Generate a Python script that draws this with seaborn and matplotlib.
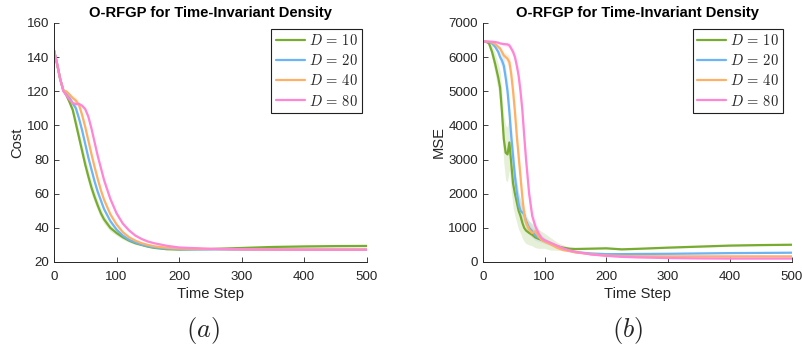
import numpy as np
import pandas as pd
import matplotlib
matplotlib.use("Agg")
import matplotlib.pyplot as plt
import seaborn as sns

# ---- data ----
labels = [r"$D\,=\,10$", r"$D\,=\,20$", r"$D\,=\,40$", r"$D\,=\,80$"]
colors = ["#77AC30", "#6CB4F5", "#FFB066", "#FF85D5"]

# (a) cost
t_cost = [0, 5, 10, 15, 20, 25, 30, 35, 40, 45, 50, 55, 60, 65, 70, 75, 80, 90, 100,
          110, 120, 130, 140, 150, 160, 180, 200, 250, 300, 350, 400, 450, 500]
cost_d10 = [144, 136, 127, 120.5, 117.5, 113.5, 109, 101, 93, 85, 77, 70, 63.5, 58, 53, 48.5,
            45, 40, 37, 34.5, 32.5, 31, 30, 29, 28.3, 27.5, 27.3, 27.6, 28.2, 28.8, 29.1, 29.3, 29.4]
cost_d20 = [144, 136, 127, 120.5, 118, 116, 113, 110, 104, 97, 89, 81, 74, 67, 61, 56,
            51, 44, 39, 35.5, 33, 31.5, 30.2, 29.3, 28.6, 27.8, 27.5, 27.4, 27.3, 27.3, 27.3, 27.3, 27.3]
cost_d40 = [144, 136, 127, 120.5, 119.8, 118, 116, 114.5, 112, 106, 99, 91, 83, 75.5, 68.5, 62,
            56.5, 48, 42, 37.5, 34.5, 32.5, 31, 30, 29.2, 28.3, 27.9, 27.6, 27.4, 27.3, 27.3, 27.3, 27.3]
cost_d80 = [144, 136, 127, 120, 117.5, 115, 113, 112.5, 112.5, 111.5, 109.5, 105, 98, 90, 82, 75,
            68, 57, 48.5, 42.5, 38.5, 35.5, 33.5, 32, 31, 29.5, 28.5, 27.7, 27.4, 27.3, 27.2, 27.2, 27.2]
cost_sd10 = [0, 0, 1, 1, 1.5, 2, 3, 3.5, 4, 4, 4, 4, 4, 3.5, 3, 3, 2.5, 2, 1.5,
             1.2, 1, 0.8, 0.6, 0.5, 0.5, 0.4, 0.4, 0.4, 0.5, 0.6, 0.6, 0.6, 0.6]
cost_sd20 = [0, 0, 0.5, 0.5, 1, 1, 1.5, 2, 2, 2, 2, 2, 2, 2, 1.8, 1.6, 1.4, 1.2, 1,
             0.8, 0.6, 0.5, 0.4, 0.3, 0.3, 0.3, 0.3, 0.3, 0.3, 0.3, 0.3, 0.3, 0.3]
cost_sd40 = cost_sd20
cost_sd80 = [0, 0, 0.5, 0.5, 1, 1, 1, 1, 1, 1.2, 1.5, 1.8, 2, 2, 2, 2, 2, 1.8, 1.5,
             1.2, 1, 0.8, 0.6, 0.5, 0.4, 0.3, 0.3, 0.3, 0.3, 0.3, 0.3, 0.3, 0.3]

# (b) MSE
t_mse = [0, 5, 10, 15, 20, 25, 28, 31, 34, 37, 40, 43, 46, 49, 52, 55, 58, 61, 64, 67, 70,
         75, 80, 85, 90, 95, 100, 110, 120, 130, 140, 150, 175, 200, 225, 250, 300, 350, 400, 450, 500]
mse_d10 = [6450, 6450, 6400, 6150, 5800, 5400, 5100, 4400, 3600, 3200, 3150, 3500, 2900, 2300,
           2000, 1750, 1500, 1350, 1150, 1000, 920, 850, 800, 720, 680, 650, 620, 530, 460, 420,
           390, 380, 390, 400, 370, 385, 420, 450, 480, 495, 505]
mse_d20 = [6450, 6450, 6440, 6400, 6300, 6150, 6000, 5900, 5750, 5400, 5000, 4400, 3700, 3100,
           2500, 2050, 1700, 1500, 1450, 1400, 1200, 1000, 900, 780, 720, 680, 630, 540, 460, 380,
           330, 290, 250, 230, 230, 235, 240, 250, 260, 265, 272]
mse_d40 = [6450, 6450, 6450, 6430, 6380, 6300, 6250, 6150, 6050, 6000, 5950, 5850, 5500, 5000,
           4400, 3700, 3100, 2500, 1900, 1400, 1150, 950, 850, 900, 750, 650, 600, 520, 420, 350,
           320, 280, 230, 190, 175, 170, 165, 165, 165, 165, 165]
mse_d80 = [6450, 6450, 6450, 6450, 6440, 6420, 6400, 6390, 6380, 6375, 6370, 6340, 6250, 6150,
           6000, 5750, 5450, 5000, 4450, 3700, 3000, 2000, 1350, 1050, 850, 700, 630, 560, 480, 400,
           340, 300, 220, 180, 150, 135, 115, 105, 100, 100, 100]
mse_sd10 = [0, 0, 80, 200, 300, 400, 500, 600, 700, 800, 800, 800, 800, 700, 650, 600, 550, 500,
            450, 400, 380, 350, 330, 300, 280, 250, 220, 180, 120, 80, 40, 30, 20, 20, 20, 20, 20,
            20, 20, 20, 20]
mse_sd20 = [0, 0, 20, 40, 60, 100, 150, 200, 250, 300, 350, 400, 400, 400, 380, 350, 300, 280,
            260, 240, 220, 200, 180, 150, 120, 100, 80, 60, 40, 30, 20, 20, 15, 15, 15, 15, 15,
            15, 15, 15, 15]
mse_sd40 = [0, 0, 0, 10, 30, 50, 60, 80, 100, 120, 150, 200, 250, 300, 300, 300, 280, 250,
            220, 200, 180, 150, 130, 110, 90, 70, 60, 50, 40, 30, 20, 15, 15, 15, 15, 15, 15,
            15, 15, 15, 15]
mse_sd80 = [0, 0, 0, 0, 10, 20, 30, 40, 50, 60, 70, 80, 100, 120, 150, 200, 250, 280,
            300, 300, 280, 250, 200, 150, 120, 90, 70, 50, 40, 30, 20, 15, 15, 15, 15, 15, 15,
            15, 15, 15, 15]

cost_series = [cost_d10, cost_d20, cost_d40, cost_d80]
cost_bands = [cost_sd10, cost_sd20, cost_sd40, cost_sd80]
mse_series = [mse_d10, mse_d20, mse_d40, mse_d80]
mse_bands = [mse_sd10, mse_sd20, mse_sd40, mse_sd80]

# ---- style ----
sns.set_style("ticks")
plt.rcParams['font.family'] = ['Liberation Sans', 'DejaVu Sans']
plt.rcParams['mathtext.fontset'] = 'cm'
axis_col = "#262626"

fig = plt.figure(figsize=(8.02, 3.47), dpi=100)
ax1 = fig.add_axes([0.0673, 0.245, 0.390, 0.689])
ax2 = fig.add_axes([0.602, 0.245, 0.385, 0.689])


def draw_panel(ax, t, series, bands, ylabel, ylim, yticks, legend_x):
    for vals, sd, col, lab in zip(series, bands, colors, labels):
        v = np.array(vals, dtype=float)
        s = np.array(sd, dtype=float)
        ax.fill_between(t, v - s, v + s, color=col, alpha=0.18, linewidth=0)
        sns.lineplot(x=t, y=v, ax=ax, color=col, linewidth=1.6, label=lab)
    ax.set_xlim(0, 500)
    ax.set_ylim(*ylim)
    ax.set_xticks([0, 100, 200, 300, 400, 500])
    ax.set_yticks(yticks)
    ax.set_title("O-RFGP for Time-Invariant Density", fontsize=10.6, fontweight="bold",
                 color="black", pad=4.5)
    ax.set_xlabel("Time Step", fontsize=10.6, color=axis_col, labelpad=3)
    ax.set_ylabel(ylabel, fontsize=10.6, color=axis_col, labelpad=2)
    ax.tick_params(labelsize=9.6, colors=axis_col, direction="in", length=3.5, width=0.6)
    ax.tick_params(axis="x", pad=6.5)
    ax.tick_params(axis="y", pad=3.5)
    for side in ["left", "bottom"]:
        ax.spines[side].set_color(axis_col)
        ax.spines[side].set_linewidth(0.7)
    sns.despine(ax=ax)
    leg = ax.legend(loc="upper right", bbox_to_anchor=(legend_x, 0.975), borderaxespad=0,
                    fontsize=10.5, handlelength=2.0, handletextpad=0.25, labelspacing=0.35,
                    borderpad=0.3, fancybox=False, framealpha=1, edgecolor="#202020")
    leg.get_frame().set_linewidth(0.8)


draw_panel(ax1, t_cost, cost_series, cost_bands, "Cost", (20, 160),
           [20, 40, 60, 80, 100, 120, 140, 160], 0.984)
draw_panel(ax2, t_mse, mse_series, mse_bands, "MSE", (0, 7000),
           [0, 1000, 2000, 3000, 4000, 5000, 6000, 7000], 0.972)

fig.text(203 / 802, 1 - 331 / 347, "$(a)$", fontsize=19, ha="center", va="center")
fig.text(628 / 802, 1 - 331 / 347, "$(b)$", fontsize=19, ha="center", va="center")

fig.savefig("out.png", dpi=100)
